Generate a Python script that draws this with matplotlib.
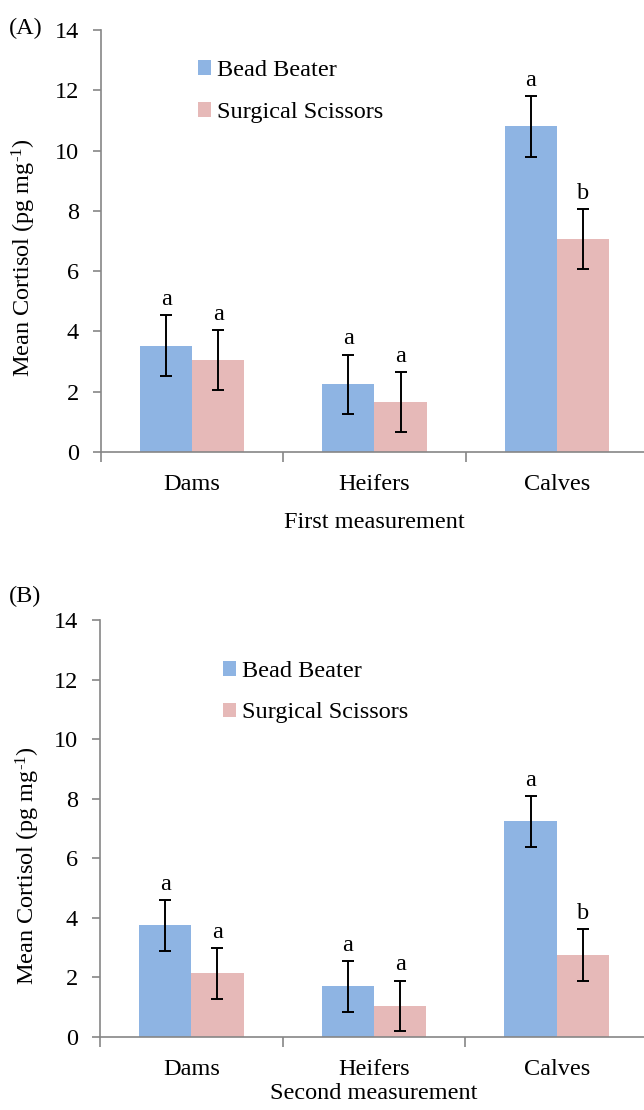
import matplotlib
matplotlib.use("Agg")
import matplotlib.pyplot as plt
import numpy as np

plt.rcParams['font.family'] = ['Liberation Serif', 'DejaVu Serif']
plt.rcParams['mathtext.fontset'] = 'custom'
plt.rcParams['mathtext.rm'] = 'Liberation Serif'
plt.rcParams['mathtext.it'] = 'Liberation Serif:italic'

categories = ["Dams", "Heifers", "Calves"]
series_names = ["Bead Beater", "Surgical Scissors"]

first_bead = [3.53, 2.24, 10.80]
first_scissors = [3.05, 1.66, 7.06]
first_bead_err = [1.0, 0.99, 1.0]
first_scissors_err = [1.0, 0.99, 0.99]
first_bead_letters = ["a", "a", "a"]
first_scissors_letters = ["a", "a", "b"]

second_bead = [3.75, 1.70, 7.24]
second_scissors = [2.14, 1.04, 2.75]
second_bead_err = [0.85, 0.85, 0.85]
second_scissors_err = [0.85, 0.85, 0.86]
second_bead_letters = ["a", "a", "a"]
second_scissors_letters = ["a", "a", "b"]

yticks = [0, 2, 4, 6, 8, 10, 12, 14]

BLUE = "#8EB4E3"
PINK = "#E6B9B8"
GRAY = "#868686"
FS = 17.5

W, H = 644, 1110
fig = plt.figure(figsize=(W / 100, H / 100), dpi=100)


def px_axes(left, top, right, bottom):
    return fig.add_axes([left / W, 1 - bottom / H, (right - left) / W, (bottom - top) / H])


def panel(ax, bead, sciss, berr, serr, blet, slet, xlabel,
          leg_x, leg_y, ylab_xy, xlabpad):
    x = np.arange(len(categories))
    w = 0.286
    ax.bar(x - w / 2, bead, w, color=BLUE, label=series_names[0], zorder=2)
    ax.bar(x + w / 2, sciss, w, color=PINK, label=series_names[1], zorder=2)
    ax.errorbar(x - w / 2, bead, yerr=berr, fmt='none', ecolor='black',
                elinewidth=1.4, capsize=4, capthick=1.4, zorder=3)
    ax.errorbar(x + w / 2, sciss, yerr=serr, fmt='none', ecolor='black',
                elinewidth=1.4, capsize=4, capthick=1.4, zorder=3)
    for xi, v, e, t in zip(x - w / 2, bead, berr, blet):
        ax.annotate(t, (xi, v + e), xytext=(0, 7.5), textcoords='offset points',
                    ha='center', va='baseline', fontsize=FS)
    for xi, v, e, t in zip(x + w / 2, sciss, serr, slet):
        ax.annotate(t, (xi, v + e), xytext=(0, 7.5), textcoords='offset points',
                    ha='center', va='baseline', fontsize=FS)

    ax.set_xlim(-0.5, 2.5)
    ax.set_ylim(0, 14)
    ax.set_yticks(yticks)
    ax.set_yticklabels([str(t) for t in yticks], fontsize=FS)
    ax.set_xticks([-0.5, 0.5, 1.5, 2.5])
    ax.set_xticklabels([])
    ax.set_xticks(x, minor=True)
    ax.set_xticklabels(categories, minor=True, fontsize=FS)
    ax.tick_params(axis='x', which='major', length=7, width=1.2, color=GRAY, direction='out')
    ax.tick_params(axis='x', which='minor', length=0, pad=16)
    ax.tick_params(axis='y', length=6, width=1.2, color=GRAY, direction='out', pad=10)
    for s in ['top', 'right']:
        ax.spines[s].set_visible(False)
    for s in ['left', 'bottom']:
        ax.spines[s].set_color(GRAY)
        ax.spines[s].set_linewidth(1.2)
    ax.set_xlabel(xlabel, fontsize=FS, labelpad=xlabpad)
    ax.set_ylabel(r"Mean Cortisol (pg mg$^{\text{-1}}$)", fontsize=FS)
    ax.yaxis.label.set_verticalalignment('center')
    ax.yaxis.set_label_coords(*ylab_xy)
    ax.legend(loc='center left', bbox_to_anchor=(leg_x, leg_y), frameon=False,
              fontsize=FS, handlelength=0.55, handleheight=0.55, handletextpad=0.25,
              labelspacing=0.85, borderpad=0, borderaxespad=0)
    return ax


axA = px_axes(101, 30, 648, 452)
panel(axA, first_bead, first_scissors, first_bead_err, first_scissors_err,
      first_bead_letters, first_scissors_letters, "First measurement",
      0.177, 0.854, (-0.141, 0.461), 12)
fig.text(9 / W, 1 - 28 / H, "(A)", fontsize=FS, ha='left', va='center')

axB = px_axes(100, 620, 648, 1037)
panel(axB, second_bead, second_scissors, second_bead_err, second_scissors_err,
      second_bead_letters, second_scissors_letters, "Second measurement",
      0.224, 0.827, (-0.132, 0.412), 2)
fig.text(9 / W, 1 - 596 / H, "(B)", fontsize=FS, ha='left', va='center')

fig.savefig("out.png", dpi=100)
